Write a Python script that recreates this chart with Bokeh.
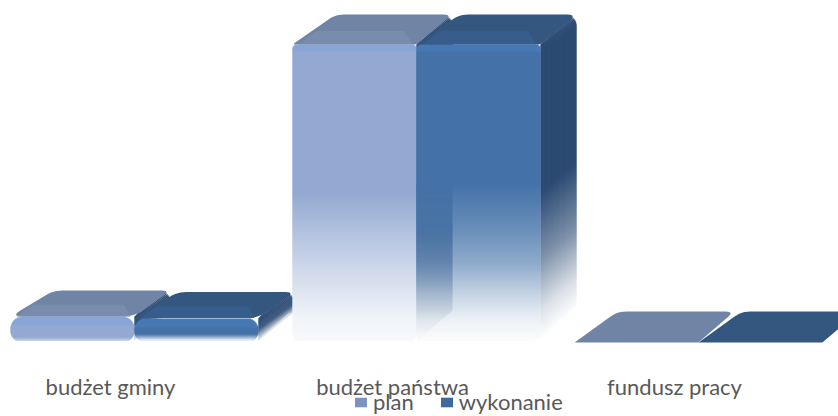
import math
from bokeh.plotting import figure
from bokeh.models import Range1d, Legend, LegendItem
from bokeh.core.properties import value
from bokeh.embed import file_html
from bokeh.resources import INLINE

categories = ["budżet gminy", "budżet państwa", "fundusz pracy"]
series_names = ["plan", "wykonanie"]
plan = [8.1, 100, 0]
wykonanie = [7.6, 100, 0]

W, H = 838, 416
UNIT_X = 282.0      # px per category
UNIT_Y = 2.96       # px per value unit
ORIGIN_X = 134.0    # px of category 0
ORIGIN_Y = 340.0    # px (from top) of value 0
BAR_W = 124.0
DX = 36.0

x_range = Range1d(-ORIGIN_X / UNIT_X, (W - ORIGIN_X) / UNIT_X)
y_range = Range1d(-(H - ORIGIN_Y) / UNIT_Y, ORIGIN_Y / UNIT_Y)

p = figure(width=W, height=H, x_range=x_range, y_range=y_range,
           output_backend="svg", toolbar_location=None,
           min_border=0, outline_line_color=None, background_fill_color="white")
p.axis.visible = False
p.grid.visible = False

to_x = lambda px: (px - ORIGIN_X) / UNIT_X
to_y = lambda py: (ORIGIN_Y - py) / UNIT_Y

xs, ys, cols = [], [], []


def rgb(h):
    return tuple(int(h[i:i + 2], 16) for i in (1, 3, 5))


def over(top, alpha, under=(255, 255, 255)):
    return tuple(t * alpha + u * (1 - alpha) for t, u in zip(top, under))


def hexa(c):
    return "#%02x%02x%02x" % tuple(int(round(v)) for v in c)


def add(poly, color):
    xs.append([to_x(a) for a, _ in poly])
    ys.append([to_y(b) for _, b in poly])
    cols.append(hexa(color))


def rounded(points, radii):
    out = []
    n = len(points)
    for i, (pt, r) in enumerate(zip(points, radii)):
        a, b, c = points[i - 1], pt, points[(i + 1) % n]
        if r <= 0:
            out.append(b)
            continue

        def toward(q):
            d = math.hypot(q[0] - b[0], q[1] - b[1]) or 1
            k = min(r, d / 2) / d
            return (b[0] + (q[0] - b[0]) * k, b[1] + (q[1] - b[1]) * k)
        s, e = toward(a), toward(c)
        for j in range(7):
            t = j / 6
            out.append(((1 - t) ** 2 * s[0] + 2 * t * (1 - t) * b[0] + t * t * e[0],
                        (1 - t) ** 2 * s[1] + 2 * t * (1 - t) * b[1] + t * t * e[1]))
    return out


def lerp(stops, t):
    for (t0, a0), (t1, a1) in zip(stops, stops[1:]):
        if t <= t1:
            return a0 + (a1 - a0) * (t - t0) / max(t1 - t0, 1e-6)
    return stops[-1][1]


def corner(d, r):
    return r - math.sqrt(max(r ** 2 - (r - d) ** 2, 0)) if d < r else 0.0


SIDE_BIG = [(0, 1), (.5, 1), (.72, .62), (.9, .16), (1, 0)]
SIDE_SMALL = [(0, 1), (.5, .9), (1, .1)]
WEDGE = [(0, 1), (.63, 1), (.74, .67), (.84, .31), (.93, .1), (1, 0)]
STYLE = {
    "plan": dict(front="#93a9d1", bevel="#89a5d5", top="#7085a6", facet="#798cac", side="#2c4b73",
                 fade=[(0, 1), (.50, 1), (.76, .45), (.93, .12), (1, .07)],
                 fade_small=[(0, 1), (.85, 1), (1, .6)]),
    "wykonanie": dict(front="#4472a8", bevel="#4679b4", top="#34577f", facet="#375d8c", side="#2c4b73",
                      fade=[(0, 1), (.47, 1), (.63, .79), (.74, .6), (.84, .32), (.93, .1), (1, .02)],
                      fade_small=[(0, 1), (.72, 1), (1, .05)]),
}


def bar(idx, offset, val, name, under=None):
    st = STYLE[name]
    left = ORIGIN_X + idx * UNIT_X + offset
    right = left + BAR_W
    h = val * UNIT_Y
    base = ORIGIN_Y
    big = h > 100
    dy = 31.0 if not h else (30.0 if big else 26.0)
    top_y = base - h if h else base + 2
    fade = st["fade"] if big else st["fade_small"]
    side_fade = SIDE_BIG if big else SIDE_SMALL
    side_rgb, front_rgb, bevel_rgb = rgb(st["side"]), rgb(st["front"]), rgb(st["bevel"])

    # side face: opaque slices, each overlapped by the next
    if h:
        n = max(int(h), 1)
        for k in range(n):
            y0 = top_y + h * k / n
            y1 = min(y0 + 2, base)
            c = over(side_rgb, lerp(side_fade, (k + .5) / n))
            ins = max(corner(k, 10), corner(n - k, 10))
            add([(right, y0), (right + DX - ins, y0 - dy), (right + DX - ins, y1 - dy), (right, y1)], c)

    # top face, with a lighter facet along its front edge
    r_front = 12 if h and not big else (3 if h else 1)
    add(rounded([(left, top_y), (left + DX + 7, top_y - dy), (right + DX, top_y - dy), (right, top_y)],
                [r_front, 9, 9, r_front]), rgb(st["top"]))
    if h:
        fd = dy * .45
        add([(left + 6, top_y), (left + 6 + fd * 1.35, top_y - fd), (right - fd * .9, top_y - fd), (right - 4, top_y)],
            rgb(st["facet"]))

    # front face: one-pixel rows for the vertical fade
    if h:
        r_t, r_b = (12, 10) if not big else (4, 8)
        n = int(round(h))
        start = round(top_y)
        for k in range(n):
            y0 = start + k
            mid = y0 + .5
            d_t, d_b = mid - top_y, base - mid
            inset = max(corner(d_t, r_t), corner(d_b, r_b))
            col = bevel_rgb if d_t < (7 if big else 9) else front_rgb
            a = lerp(fade, (k + .5) / n)
            y1 = y0 + (2 if k < n - 1 else 1)
            add([(left + inset, y0), (right - inset, y0), (right - inset, y1), (left + inset, y1)],
                over(col, a))
            # the neighbour's side face shows through the faded part of this front
            if under is not None and a < 1 and big:
                depth = base - mid
                wedge_right = left + min(DX, DX * depth / 30.0)
                s = lerp(WEDGE, (k + .5) / n)
                add([(left + inset, y0), (wedge_right, y0), (wedge_right, y1), (left + inset, y1)],
                    over(col, a, over(rgb(under), s)))


for i in range(len(categories)):
    bar(i, -BAR_W, plan[i], "plan")
    bar(i, 0, wykonanie[i], "wykonanie", under=STYLE["plan"]["side"])

p.patches(xs=xs, ys=ys, fill_color=cols, line_color=None)

# category labels
p.text(x=list(range(len(categories))), y=[to_y(386)] * 3, text=categories,
       text_font=value("Lato"), text_font_size="22px", text_color="#595959",
       text_align="center", text_baseline="alphabetic", x_offset=-24)

# legend
swatches = [p.quad(left=[float("nan")], right=[float("nan")], top=[float("nan")], bottom=[float("nan")],
                   fill_color=c, line_color=None) for c in ("#7a93c0", "#3f6a9f")]
legend = Legend(items=[LegendItem(label=n, renderers=[r]) for n, r in zip(series_names, swatches)],
                orientation="horizontal", location=(353, 1),
                glyph_width=15, glyph_height=12, label_standoff=5, spacing=25,
                padding=0, margin=0, border_line_color=None, background_fill_alpha=0,
                label_text_font="Lato", label_text_font_size="22px", label_text_color="#595959")
p.add_layout(legend, "center")

open("out.html", "w").write(file_html(p, INLINE))
